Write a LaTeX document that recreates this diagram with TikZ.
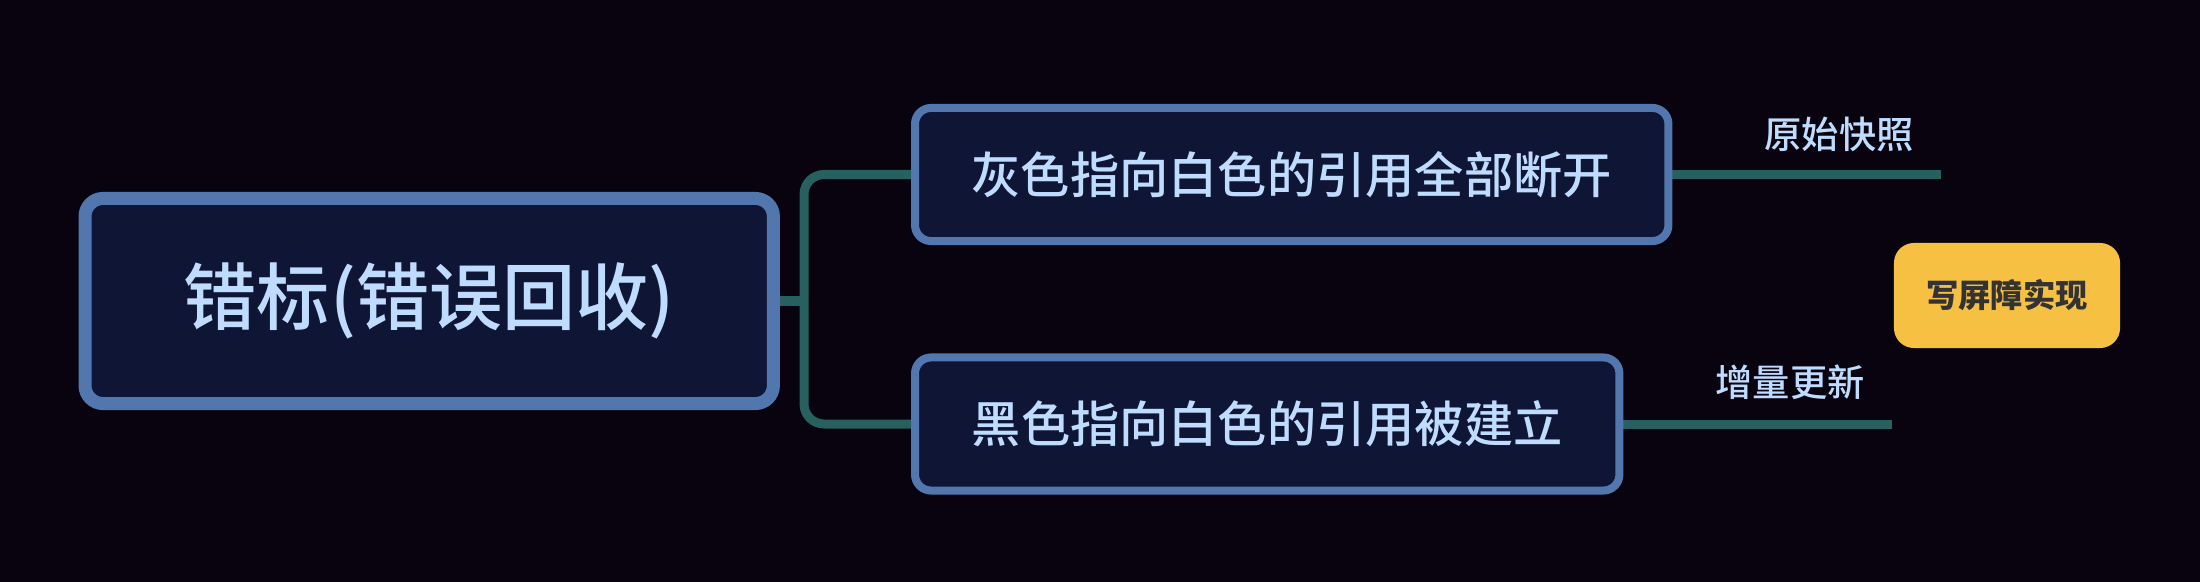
\documentclass[tikz,border=0pt]{standalone}
\usepackage{fontspec}
\setmainfont{Noto Sans CJK SC}
\newfontfamily\cjkmed{Noto Sans CJK SC Medium}
\usetikzlibrary{backgrounds}
\definecolor{bgdark}{RGB}{8,3,14}
\definecolor{boxfill}{RGB}{15,21,53}
\definecolor{boxborder}{RGB}{82,119,174}
\definecolor{nodetext}{RGB}{191,219,254}
\definecolor{branchteal}{RGB}{40,96,96}
\definecolor{noteyellow}{RGB}{246,193,67}
\definecolor{notetext}{RGB}{51,51,51}

\begin{document}
\begin{tikzpicture}[x=0.01cm, y=-0.01cm,
  rootbox/.style={draw=boxborder, fill=boxfill, line width=0.13cm,
    rounded corners=0.18cm, minimum width=6.88cm, minimum height=2.05cm,
    anchor=west, text=nodetext, font=\cjkmed\fontsize{20.8pt}{24pt}\selectfont},
  childbox/.style={draw=boxborder, fill=boxfill, line width=0.08cm,
    rounded corners=0.16cm, minimum height=1.33cm,
    anchor=west, text=nodetext, font=\cjkmed\fontsize{14pt}{17pt}\selectfont},
  leaflabel/.style={text=nodetext, font=\cjkmed\fontsize{10.6pt}{13pt}\selectfont},
  notebox/.style={fill=noteyellow, rounded corners=0.2cm,
    minimum width=2.26cm, minimum height=1.05cm,
    text=notetext, font=\bfseries\fontsize{9.2pt}{11pt}\selectfont},
  branch/.style={draw=branchteal, line width=0.09cm}]
\useasboundingbox (0,0) rectangle (2200,582);

% main boxes
\node[rootbox] (root) at (78.5,301) {错标(错误回收)};
\node[childbox, minimum width=7.53cm] (gray) at (911,174.5) {灰色指向白色的引用全部断开};
\node[childbox, minimum width=7.04cm] (black) at (911,424) {黑色指向白色的引用被建立};

% leaves on the right
\coordinate (fork) at (804,301);
\coordinate (snapEnd) at (1941,174.5);
\coordinate (incrEnd) at (1892,424);
\node[leaflabel] (snap) at (1839,134) {原始快照};
\node[leaflabel] (incr) at (1790,382) {增量更新};
\node[notebox] (barrier) at (2007,295.5) {写屏障实现};

\begin{scope}[on background layer]
  \fill[bgdark] (0,0) rectangle (2200,582);
  \draw[branch] (root.east) -- (fork);
  \draw[branch, rounded corners=0.2cm] (fork) |- (gray.west);
  \draw[branch, rounded corners=0.2cm] (fork) |- (black.west);
  \draw[branch] (gray.east) -- (snapEnd);
  \draw[branch] (black.east) -- (incrEnd);
\end{scope}
\end{tikzpicture}
\end{document}
